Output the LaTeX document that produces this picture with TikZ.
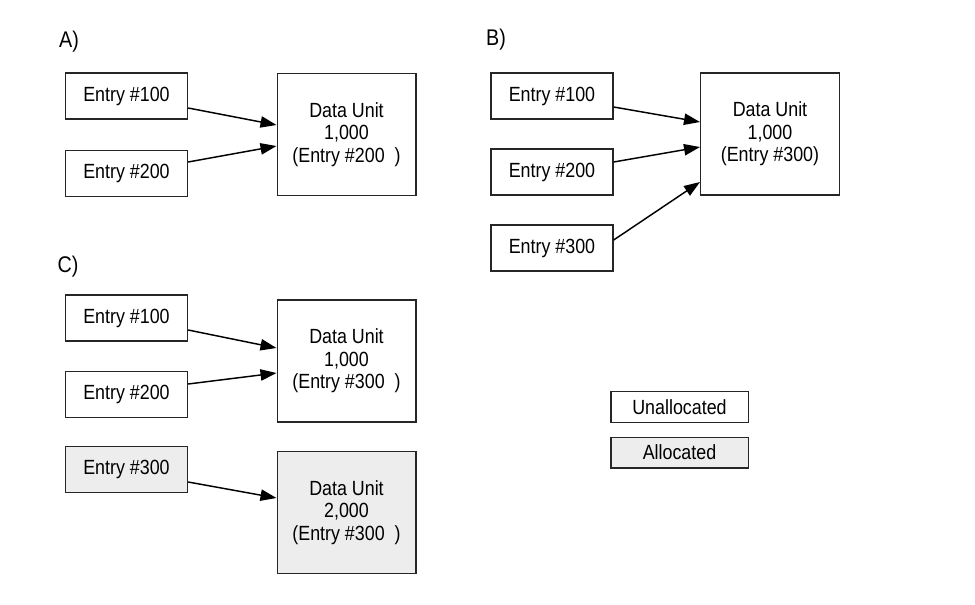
\documentclass[tikz,border=0pt]{standalone}
\usepackage{fontspec}
\setmainfont{Liberation Sans}[FakeStretch=0.87]
\usetikzlibrary{arrows.meta,calc}
\definecolor{allocgray}{RGB}{237,237,237}
\begin{document}
\begin{tikzpicture}[x=0.75pt, y=-0.75pt,
    every node/.style={font=\fontsize{15.4}{17}\selectfont},
    entry/.style={draw=black!85, line width=1pt, rectangle, minimum width=91.5pt, minimum height=34.5pt},
    unitbox/.style={draw=black!85, line width=1pt, rectangle, align=center, minimum width=104pt, minimum height=91.5pt},
    keybox/.style={draw=black!85, line width=1pt, rectangle, minimum width=103pt, minimum height=23pt},
    alloc/.style={fill=allocgray},
    panel/.style={font=\fontsize{17}{20}\selectfont},
    link/.style={line width=1.1pt, -{Triangle[length=12pt,width=8.5pt]}}]
\useasboundingbox (0,0) rectangle (975,604);

% A)
\node[panel] (la) at (69,42) {A)};
\node[entry] (a100) at (126.5,96) {Entry \#100};
\node[entry] (a200) at (126.5,173.5) {Entry \#200};
\node[unitbox] (adu) at (346.5,134.5) {Data Unit\\1,000\\(Entry \#200\ \ )};

\draw[link] ($(a100.east)+(0,12)$) -- ($(adu.west)+(0,-9.5)$);
\draw[link] ($(a200.east)+(0,-11.5)$) -- ($(adu.west)+(0,11.5)$);

% B)
\node[panel] (lb) at (496,40) {B)};
\node[entry] (b100) at (552,96) {Entry \#100};
\node[entry] (b200) at (552,172) {Entry \#200};
\node[entry] (b300) at (552,248) {Entry \#300};
\node[unitbox] (bdu) at (770,134) {Data Unit\\1,000\\(Entry \#300)};

\draw[link] ($(b100.east)+(0,11)$) -- ($(bdu.west)+(0,-12)$);
\draw[link] ($(b200.east)+(0,-10)$) -- ($(bdu.west)+(0,13)$);
\draw[link] ($(b300.east)+(0,-8)$) -- ($(bdu.west)+(0,48)$);

% C)
\node[panel] (lc) at (68,267) {C)};
\node[entry] (c100) at (126.5,318) {Entry \#100};
\node[entry] (c200) at (126.5,394.5) {Entry \#200};
\node[unitbox] (cdu) at (346.5,361) {Data Unit\\1,000\\(Entry \#300\ \ )};
\node[entry, alloc] (c300) at (126.5,469.5) {Entry \#300};
\node[unitbox, alloc] (cdu2) at (346.5,512.5) {Data Unit\\2,000\\(Entry \#300\ \ )};

\draw[link] ($(c100.east)+(0,12)$) -- ($(cdu.west)+(0,-13)$);
\draw[link] ($(c200.east)+(0,-10.5)$) -- ($(cdu.west)+(0,12)$);
\draw[link] ($(c300.east)+(0,12.5)$) -- ($(cdu2.west)+(0,-14.5)$);

% legend
\node[keybox] (unalloc) at (679.5,407) {Unallocated};
\node[keybox, alloc] (allocd) at (679.5,452.5) {Allocated};

\end{tikzpicture}
\end{document}
